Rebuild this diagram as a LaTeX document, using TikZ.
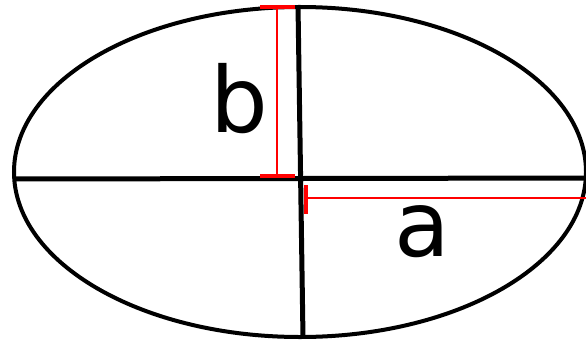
\documentclass[tikz,border=0pt]{standalone}
\usepackage{fontspec}
\setmainfont{DejaVu Sans}
\usetikzlibrary{positioning}
\definecolor{dimred}{RGB}{255,0,0}
\tikzset{
  axisline/.style={draw=black, line width=5pt},
  outline/.style={draw=black, line width=4pt},
  dimline/.style={draw=dimred, line width=2pt},
  dimcap/.style={draw=dimred, line width=4pt},
  letter/.style={font=\fontsize{91}{91}\selectfont, inner sep=0pt, text=black}
}

\begin{document}
\begin{tikzpicture}[x=1pt, y=-1pt]
  \useasboundingbox (0,0) rectangle (586,343);
  % outline and axes
  \draw[outline] (300,172) ellipse [x radius=286, y radius=165];
  \coordinate (left) at (14,179);
  \coordinate (right) at (590,178);
  \coordinate (top) at (298,5);
  \coordinate (bottom) at (303,338);
  \draw[axisline] (left) -- (right);
  \draw[axisline] (top) -- (bottom);

  % b
  \coordinate (btop) at (277,8);
  \coordinate (bbot) at (277,176);
  \draw[dimline] (btop) -- (bbot);
  \draw[dimcap] (260,7) -- (295,7);
  \draw[dimcap] (260,176) -- (295,176);
  \node[letter] (blabel) at (239,99) {b};

  % a
  \coordinate (aleft) at (306,198);
  \coordinate (aright) at (590,198);
  \draw[dimline] (aleft) -- (aright);
  \draw[dimcap] (306,185) -- (306,214);
  \node[letter] (alabel) at (422,232) {a};
\end{tikzpicture}
\end{document}
